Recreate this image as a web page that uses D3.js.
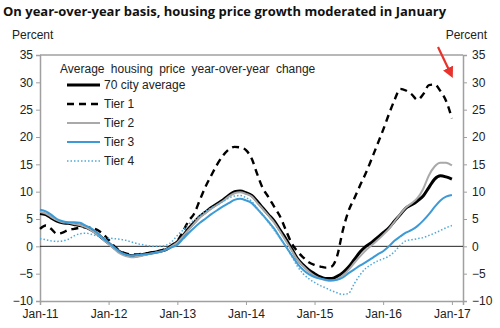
<!DOCTYPE html>
<html>
<head>
<meta charset="utf-8">
<script src="https://cdn.jsdelivr.net/npm/d3@7"></script>
<style>
  body { margin: 0; background: #fff; }
  svg { display: block; font-family: "Liberation Sans", Arial, sans-serif; }
</style>
</head>
<body>
<div id="chart"></div>
<script>
// monthly year-over-year change, Jan-11 .. Jan-17 (percent)
const avg70 = [6.0,5.8,5.2,4.6,4.3,4.2,4.0,3.8,3.5,3.0,2.3,1.4,
  0.6,-0.3,-1.0,-1.5,-1.7,-1.7,-1.5,-1.3,-1.1,-0.9,-0.6,0.0,
  0.8,2.0,3.2,4.4,5.5,6.3,7.1,7.8,8.5,9.3,10.0,10.1,
  9.8,9.3,8.3,7.0,5.8,4.6,3.0,1.4,-0.4,-2.2,-3.4,-4.3,
  -5.0,-5.6,-5.9,-5.9,-5.5,-4.8,-3.8,-2.4,-1.0,0.0,0.7,1.6,
  2.5,3.4,4.6,5.8,7.0,7.6,8.3,9.2,10.8,12.3,12.9,12.7,
  12.3];
const tier1 = [3.2,3.8,3.2,2.3,2.5,3.0,3.2,3.4,3.5,3.4,3.0,2.3,
  1.2,0.0,-0.8,-1.3,-1.5,-1.5,-1.3,-1.2,-1.0,-0.8,-0.4,0.2,
  1.0,2.8,4.6,6.0,8.5,11.0,13.0,15.0,16.6,17.7,18.2,18.1,
  17.6,16.0,13.3,10.6,9.0,7.2,5.5,3.0,0.6,-0.9,-2.0,-2.9,
  -3.4,-3.7,-3.9,-3.7,-1.8,3.0,6.5,8.8,11.2,13.4,16.0,18.6,
  21.3,24.2,26.7,28.8,28.5,27.8,26.8,27.8,29.5,29.6,28.4,26.6,
  23.4];
const tier2 = [6.3,6.0,5.4,4.8,4.4,4.3,4.1,3.9,3.5,2.9,2.2,1.3,
  0.4,-0.5,-1.3,-1.8,-2.0,-1.9,-1.7,-1.4,-1.2,-1.0,-0.6,0.0,
  0.7,1.9,3.0,4.2,5.3,6.1,6.9,7.6,8.3,9.1,9.7,9.9,
  9.6,9.1,8.0,6.8,5.6,4.3,2.7,1.0,-0.7,-2.4,-3.6,-4.6,
  -5.4,-5.9,-6.2,-6.3,-6.0,-5.3,-4.3,-3.0,-1.8,-0.7,0.2,1.1,
  2.1,3.2,4.5,5.9,7.1,7.9,8.8,10.5,13.0,14.6,15.3,15.3,
  14.8];
const tier3 = [6.7,6.4,5.8,5.0,4.6,4.4,4.4,4.3,3.8,3.3,2.5,1.5,
  0.7,-0.2,-1.0,-1.5,-1.7,-1.6,-1.5,-1.4,-1.2,-1.0,-0.6,-0.2,
  0.3,1.4,2.4,3.4,4.3,5.1,5.9,6.6,7.3,7.9,8.5,8.7,
  8.4,7.9,6.9,5.7,4.5,3.2,1.6,0.0,-1.6,-3.1,-4.3,-5.1,
  -5.6,-5.9,-6.1,-6.2,-6.1,-5.7,-4.9,-4.2,-3.5,-2.9,-2.2,-1.5,
  -0.9,0.0,1.0,1.8,2.5,3.0,3.7,4.7,5.9,7.2,8.4,9.1,
  9.4];
const tier4 = [1.4,1.2,1.0,0.9,1.0,1.3,1.9,2.3,2.4,2.2,1.9,1.6,
  1.5,1.4,1.3,1.1,0.8,0.5,0.3,0.1,0.0,0.0,0.2,0.8,
  2.0,3.0,4.0,4.8,5.6,6.4,7.0,7.6,8.2,8.8,9.2,9.3,
  8.9,8.2,7.0,5.8,4.4,2.9,1.5,0.0,-1.8,-3.6,-5.0,-5.9,
  -6.6,-7.2,-7.6,-8.1,-8.5,-8.8,-8.6,-6.8,-5.2,-4.0,-3.3,-2.7,
  -2.3,-1.8,-1.0,0.2,1.0,1.2,1.4,1.6,2.0,2.4,2.9,3.4,
  3.8];

const seriesNames = ["70 city average", "Tier 1", "Tier 2", "Tier 3", "Tier 4"];
const yTicks = [-10, -5, 0, 5, 10, 15, 20, 25, 30, 35];
const xTickLabels = ["Jan-11", "Jan-12", "Jan-13", "Jan-14", "Jan-15", "Jan-16", "Jan-17"];

const months = d3.timeMonth.range(new Date(2011, 0, 1), new Date(2017, 1, 1));

const width = 500, height = 328;
const margin = {top: 55, right: 37, bottom: 27, left: 40};

const svg = d3.select("#chart").append("svg")
  .attr("width", width)
  .attr("height", height);

const x = d3.scaleTime()
  .domain([new Date(2011, 0, 1), new Date(2017, 2, 1)])
  .range([margin.left, width - margin.right]);
const y = d3.scaleLinear()
  .domain([-10, 35])
  .range([height - margin.bottom, margin.top]);

// 标题
svg.append("text")
  .attr("x", 3).attr("y", 16)
  .attr("font-family", "'Open Sans', sans-serif")
  .attr("font-weight", "bold")
  .attr("font-size", "13px")
  .attr("fill", "#111")
  .text("On year-over-year basis, housing price growth moderated in January");

svg.append("text").attr("x", 12).attr("y", 39)
  .attr("font-size", "12px").attr("fill", "#222").text("Percent");
svg.append("text").attr("x", 487).attr("y", 39).attr("text-anchor", "end")
  .attr("font-size", "12px").attr("fill", "#222").text("Percent");

// 坐标轴
const axisColor = "#a0a0a0";
const tickFmt = d => xTickLabels[d.getFullYear() - 2011];

const gl = svg.append("g")
  .attr("transform", `translate(${margin.left},0)`)
  .call(d3.axisLeft(y).tickValues(yTicks).tickSize(4).tickPadding(3));
const gr = svg.append("g")
  .attr("transform", `translate(${width - margin.right},0)`)
  .call(d3.axisRight(y).tickValues(yTicks).tickSize(4).tickPadding(5));
const gb = svg.append("g")
  .attr("transform", `translate(0,${height - margin.bottom})`)
  .call(d3.axisBottom(x)
    .tickValues(xTickLabels.map((_, i) => new Date(2011 + i, 0, 1)))
    .tickFormat(tickFmt).tickSize(4).tickPadding(4));

[gl, gr, gb].forEach(g => {
  g.select(".domain").attr("stroke", axisColor).attr("stroke-width", 1.5);
  g.selectAll(".tick line").attr("stroke", axisColor);
  g.selectAll(".tick text")
    .attr("font-family", "'Liberation Sans', Arial, sans-serif")
    .attr("font-size", "12px").attr("fill", "#222");
});

// 顶部边框
svg.append("line")
  .attr("x1", margin.left).attr("x2", width - margin.right)
  .attr("y1", y(35)).attr("y2", y(35))
  .attr("stroke", axisColor).attr("stroke-width", 1.5);

// 零线
svg.append("line")
  .attr("x1", margin.left).attr("x2", width - margin.right)
  .attr("y1", y(0)).attr("y2", y(0))
  .attr("stroke", "#222").attr("stroke-width", 1);

const styles = [
  {values: avg70, color: "#000", width: 3, dash: null},
  {values: tier1, color: "#000", width: 2.4, dash: "7,5"},
  {values: tier2, color: "#a9a9a9", width: 2, dash: null},
  {values: tier3, color: "#3c9ad6", width: 2, dash: null},
  {values: tier4, color: "#4fa9d8", width: 1.5, dash: "1.5,2"}
];

const line = d3.line()
  .x((d, i) => x(months[i]))
  .y(d => y(d))
  .curve(d3.curveMonotoneX);

svg.append("g").selectAll("path")
  .data(styles)
  .enter()
  .append("path")
  .attr("d", d => line(d.values))
  .attr("fill", "none")
  .attr("stroke", d => d.color)
  .attr("stroke-width", d => d.width)
  .attr("stroke-dasharray", d => d.dash)
  .attr("stroke-linejoin", "round");

// 图例
const legend = svg.append("g");
legend.append("text")
  .attr("x", 60).attr("y", 73)
  .attr("font-size", "12px").attr("fill", "#222")
  .attr("word-spacing", "3px")
  .text("Average housing price year-over-year change");

styles.forEach((s, i) => {
  const ly = 85 + i * 19;
  legend.append("line")
    .attr("x1", 67).attr("x2", 100)
    .attr("y1", ly).attr("y2", ly)
    .attr("stroke", s.color)
    .attr("stroke-width", s.width)
    .attr("stroke-dasharray", s.dash);
  legend.append("text")
    .attr("x", 104).attr("y", ly + 4)
    .attr("font-size", "12px").attr("fill", "#222")
    .text(seriesNames[i]);
});

// 红色箭头
const defs = svg.append("defs");
defs.append("marker")
  .attr("id", "arrowhead")
  .attr("viewBox", "0 0 10 10")
  .attr("refX", 2).attr("refY", 5)
  .attr("markerWidth", 5).attr("markerHeight", 5)
  .attr("orient", "auto")
  .append("path")
  .attr("d", "M0,0 L10,5 L0,10 Z")
  .attr("fill", "#e8322b");

svg.append("line")
  .attr("x1", 438).attr("y1", 47)
  .attr("x2", 449).attr("y2", 70)
  .attr("stroke", "#e8322b")
  .attr("stroke-width", 2.2)
  .attr("marker-end", "url(#arrowhead)");
</script>
</body>
</html>
